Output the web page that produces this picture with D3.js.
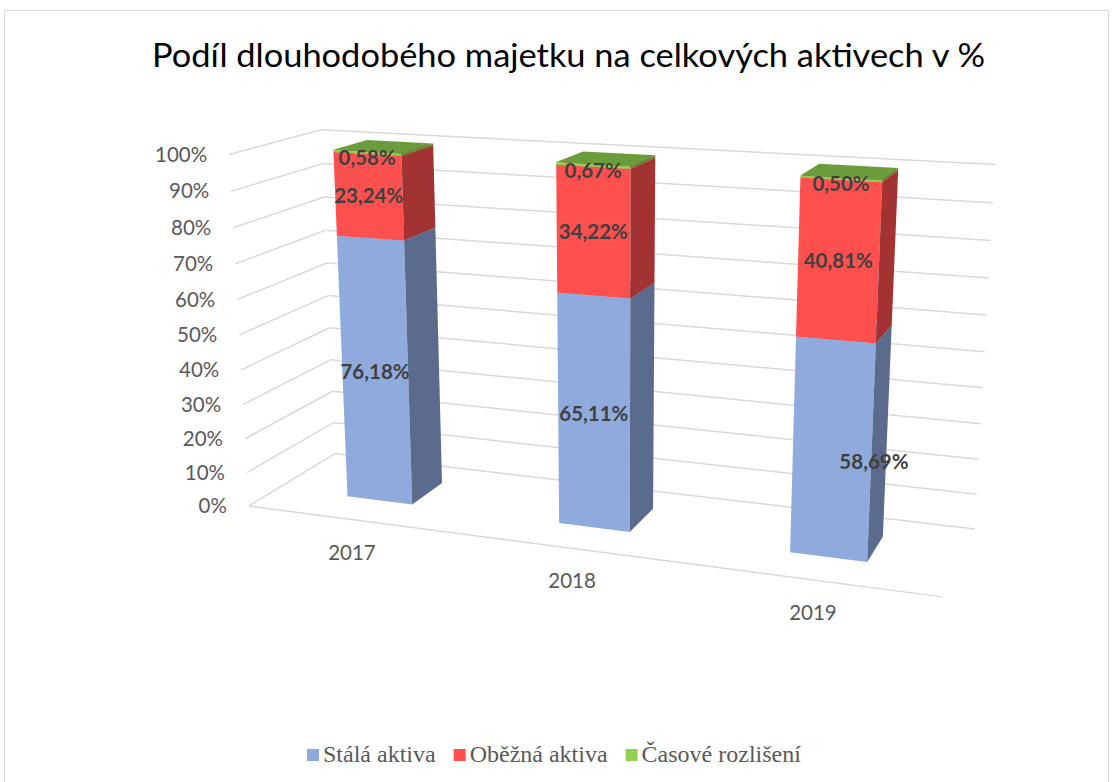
<!DOCTYPE html>
<html>
<head>
<meta charset="utf-8">
<script src="https://cdn.jsdelivr.net/npm/d3@7"></script>
<style>
  body { margin: 0; background: #fff; }
</style>
</head>
<body>
<div id="chart"></div>
<script>
// data
var years = ["2017", "2018", "2019"];
var seriesNames = ["Stálá aktiva", "Oběžná aktiva", "Časové rozlišení"];
var stalaAktiva = [76.18, 65.11, 58.69];
var obeznaAktiva = [23.24, 34.22, 40.81];
var casoveRozliseni = [0.58, 0.67, 0.50];
var yTicks = [0, 10, 20, 30, 40, 50, 60, 70, 80, 90, 100];

// colours: front, right side, top
var colors = {
  "Stálá aktiva":     {front: "#8faadc", side: "#5b6b8d", top: "#7d96c6"},
  "Oběžná aktiva":    {front: "#ff5050", side: "#a33232", top: "#d94646"},
  "Časové rozlišení": {front: "#92d050", side: "#5e8a32", top: "#6b9c3b"}
};

var width = 1114, height = 782;

var svg = d3.select("#chart")
  .append("svg")
    .attr("width", width)
    .attr("height", height)
    .attr("font-family", "Lato, 'Open Sans', sans-serif");

svg.append("rect")
    .attr("width", width).attr("height", height)
    .attr("fill", "#fff");

// chart border
svg.append("rect")
    .attr("x", 4.5).attr("y", 10.5)
    .attr("width", 1104).attr("height", 800)
    .attr("fill", "none")
    .attr("stroke", "#d9d9d9");

// table rows for the stack
var table = years.map(function(y, i) {
  return {year: y, "Stálá aktiva": stalaAktiva[i], "Oběžná aktiva": obeznaAktiva[i], "Časové rozlišení": casoveRozliseni[i]};
});
var stacked = d3.stack().keys(seriesNames)(table);

// scales in box units: u across, v up, w into the page
var x = d3.scaleBand().domain(years).range([0, 1]).paddingInner(0.685).paddingOuter(0.3425);
var y = d3.scaleLinear().domain([0, 100]).range([0, 1]);
var depth = [0.33, 0.72];

// where the edges of the plot box land on screen: [u, v, w, px, py]
var frame = [
  [0, 1, 0, 229, 154], [0, 0.9, 0, 231, 191], [0, 0.8, 0, 233, 228], [0, 0.7, 0, 236, 264],
  [0, 0.6, 0, 237, 300], [0, 0.5, 0, 239, 335], [0, 0.4, 0, 241, 369], [0, 0.3, 0, 243, 405],
  [0, 0.2, 0, 245, 438], [0, 0.1, 0, 247, 472], [0, 0, 0, 250, 507],
  [1, 1, 1, 995, 165], [1, 0.9, 1, 993, 203], [1, 0.8, 1, 991, 240], [1, 0.7, 1, 989, 277],
  [1, 0.6, 1, 987, 315], [1, 0.5, 1, 985, 352], [1, 0.4, 1, 983, 388], [1, 0.3, 1, 981, 423],
  [1, 0.2, 1, 978, 460], [1, 0.1, 1, 977, 495], [1, 0, 1, 975, 528],
  [0, 1, 1, 322, 130], [0, 0.1, 1, 333, 423], [0, 0, 1, 335, 453],
  [1, 0, 0, 942, 597]
];

// fit a perspective (3x4) projection to the frame points, least squares
function fitProjection(pts) {
  var M = d3.range(11).map(function() { return d3.range(11).map(function() { return 0; }); });
  var r = d3.range(11).map(function() { return 0; });
  function add(row, b) {
    for (var i = 0; i < 11; i++) {
      r[i] += row[i] * b;
      for (var j = 0; j < 11; j++) M[i][j] += row[i] * row[j];
    }
  }
  pts.forEach(function(p) {
    var X = p[0], Y = p[1], Z = p[2], px = p[3], py = p[4];
    add([X, Y, Z, 1, 0, 0, 0, 0, -px * X, -px * Y, -px * Z], px);
    add([0, 0, 0, 0, X, Y, Z, 1, -py * X, -py * Y, -py * Z], py);
  });
  // gaussian elimination
  var n = 11;
  for (var c = 0; c < n; c++) {
    var piv = c;
    for (var k = c + 1; k < n; k++) if (Math.abs(M[k][c]) > Math.abs(M[piv][c])) piv = k;
    var t = M[c]; M[c] = M[piv]; M[piv] = t;
    var tb = r[c]; r[c] = r[piv]; r[piv] = tb;
    for (var k2 = c + 1; k2 < n; k2++) {
      var f = M[k2][c] / M[c][c];
      for (var j = c; j < n; j++) M[k2][j] -= f * M[c][j];
      r[k2] -= f * r[c];
    }
  }
  var p = new Array(n);
  for (var i = n - 1; i >= 0; i--) {
    var s = r[i];
    for (var j2 = i + 1; j2 < n; j2++) s -= M[i][j2] * p[j2];
    p[i] = s / M[i][i];
  }
  return p;
}

var P = fitProjection(frame);
function project(u, v, w) {
  var d = P[8] * u + P[9] * v + P[10] * w + 1;
  return [(P[0] * u + P[1] * v + P[2] * w + P[3]) / d,
          (P[4] * u + P[5] * v + P[6] * w + P[7]) / d];
}
function poly(pts) {
  return "M" + pts.map(function(q) { var s = project(q[0], q[1], q[2]); return s[0] + "," + s[1]; }).join("L") + "Z";
}
function seg(a, b) {
  var s = project(a[0], a[1], a[2]), e = project(b[0], b[1], b[2]);
  return "M" + s[0] + "," + s[1] + "L" + e[0] + "," + e[1];
}

// title
svg.append("text")
    .attr("x", 568.5)
    .attr("y", 67)
    .attr("text-anchor", "middle")
    .attr("font-size", "33px")
    .attr("fill", "#000")
    .attr("textLength", 833)
    .attr("lengthAdjust", "spacingAndGlyphs")
    .text("Podíl dlouhodobého majetku na celkových aktivech v %");

// gridlines: left wall and back wall
var grid = svg.append("g")
    .attr("fill", "none")
    .attr("stroke", "#d9d9d9")
    .attr("stroke-width", 1.5);

yTicks.forEach(function(t) {
  grid.append("path").attr("d", seg([0, y(t), 0], [0, y(t), 1]));
  grid.append("path").attr("d", seg([0, y(t), 1], [1, y(t), 1]));
});
// category axis line at the front of the floor
grid.append("path").attr("d", seg([0, 0, 0], [1, 0, 0]));

// value axis labels
svg.append("g").selectAll("text")
  .data(yTicks)
  .enter().append("text")
    .attr("x", function(t) { return project(0, y(t), 0)[0] - 22; })
    .attr("y", function(t) { return project(0, y(t), 0)[1]; })
    .attr("dy", "0.35em")
    .attr("text-anchor", "end")
    .attr("font-size", "20.5px")
    .attr("fill", "#595959")
    .text(function(t) { return t + "%"; });

// category labels
svg.append("g").selectAll("text")
  .data(years)
  .enter().append("text")
    .attr("x", function(d) { return project(x(d) + x.bandwidth() / 2, 0, 0)[0]; })
    .attr("y", function(d) { return project(x(d) + x.bandwidth() / 2, 0, 0)[1] + 40; })
    .attr("text-anchor", "middle")
    .attr("font-size", "20.5px")
    .attr("fill", "#595959")
    .text(function(d) { return d; });

// bars: one 3d block per stacked segment
var bars = svg.append("g");
years.forEach(function(yr, i) {
  var u0 = x(yr), u1 = x(yr) + x.bandwidth();
  var w0 = depth[0], w1 = depth[1];
  stacked.forEach(function(layer) {
    var v0 = y(layer[i][0]), v1 = y(layer[i][1]);
    var c = colors[layer.key];
    bars.append("path")
        .attr("d", poly([[u0, v0, w0], [u1, v0, w0], [u1, v1, w0], [u0, v1, w0]]))
        .attr("fill", c.front);
    bars.append("path")
        .attr("d", poly([[u1, v0, w0], [u1, v0, w1], [u1, v1, w1], [u1, v1, w0]]))
        .attr("fill", c.side);
    bars.append("path")
        .attr("d", poly([[u0, v1, w0], [u1, v1, w0], [u1, v1, w1], [u0, v1, w1]]))
        .attr("fill", c.top);
  });
});

// data labels (Czech decimal comma)
var cz = d3.formatLocale({decimal: ",", thousands: " ", grouping: [3], currency: ["", " Kč"]});
var fmt = cz.format(".2f");
var labelNudge = {"Stálá aktiva 2019": [42, 12], "Časové rozlišení": [0, 5]};

var labels = svg.append("g");
stacked.forEach(function(layer) {
  years.forEach(function(yr, i) {
    var uc = x(yr) + x.bandwidth() / 2;
    var vm = y((layer[i][0] + layer[i][1]) / 2);
    var pt = project(uc, vm, depth[0]);
    var nudge = labelNudge[layer.key + " " + yr] || labelNudge[layer.key] || [0, 0];
    labels.append("text")
        .attr("x", pt[0] + nudge[0])
        .attr("y", pt[1] + nudge[1])
        .attr("dy", "0.35em")
        .attr("text-anchor", "middle")
        .attr("font-size", "20.5px")
        .attr("font-weight", "bold")
        .attr("fill", "#404040")
        .text(fmt(layer[i][1] - layer[i][0]) + "%");
  });
});

// legend
var legend = svg.append("g")
    .attr("font-size", "24px");
var lx = 307;
seriesNames.forEach(function(name) {
  legend.append("rect")
      .attr("x", lx).attr("y", 749)
      .attr("width", 12).attr("height", 12)
      .attr("fill", colors[name].front);
  var t = legend.append("text")
      .attr("x", lx + 16).attr("y", 762)
      .style("font-family", "'Liberation Serif', 'DejaVu Serif', serif")
      .attr("fill", "#595959")
      .text(name);
  lx += 16 + t.node().getComputedTextLength() + 18;
});
</script>
</body>
</html>
